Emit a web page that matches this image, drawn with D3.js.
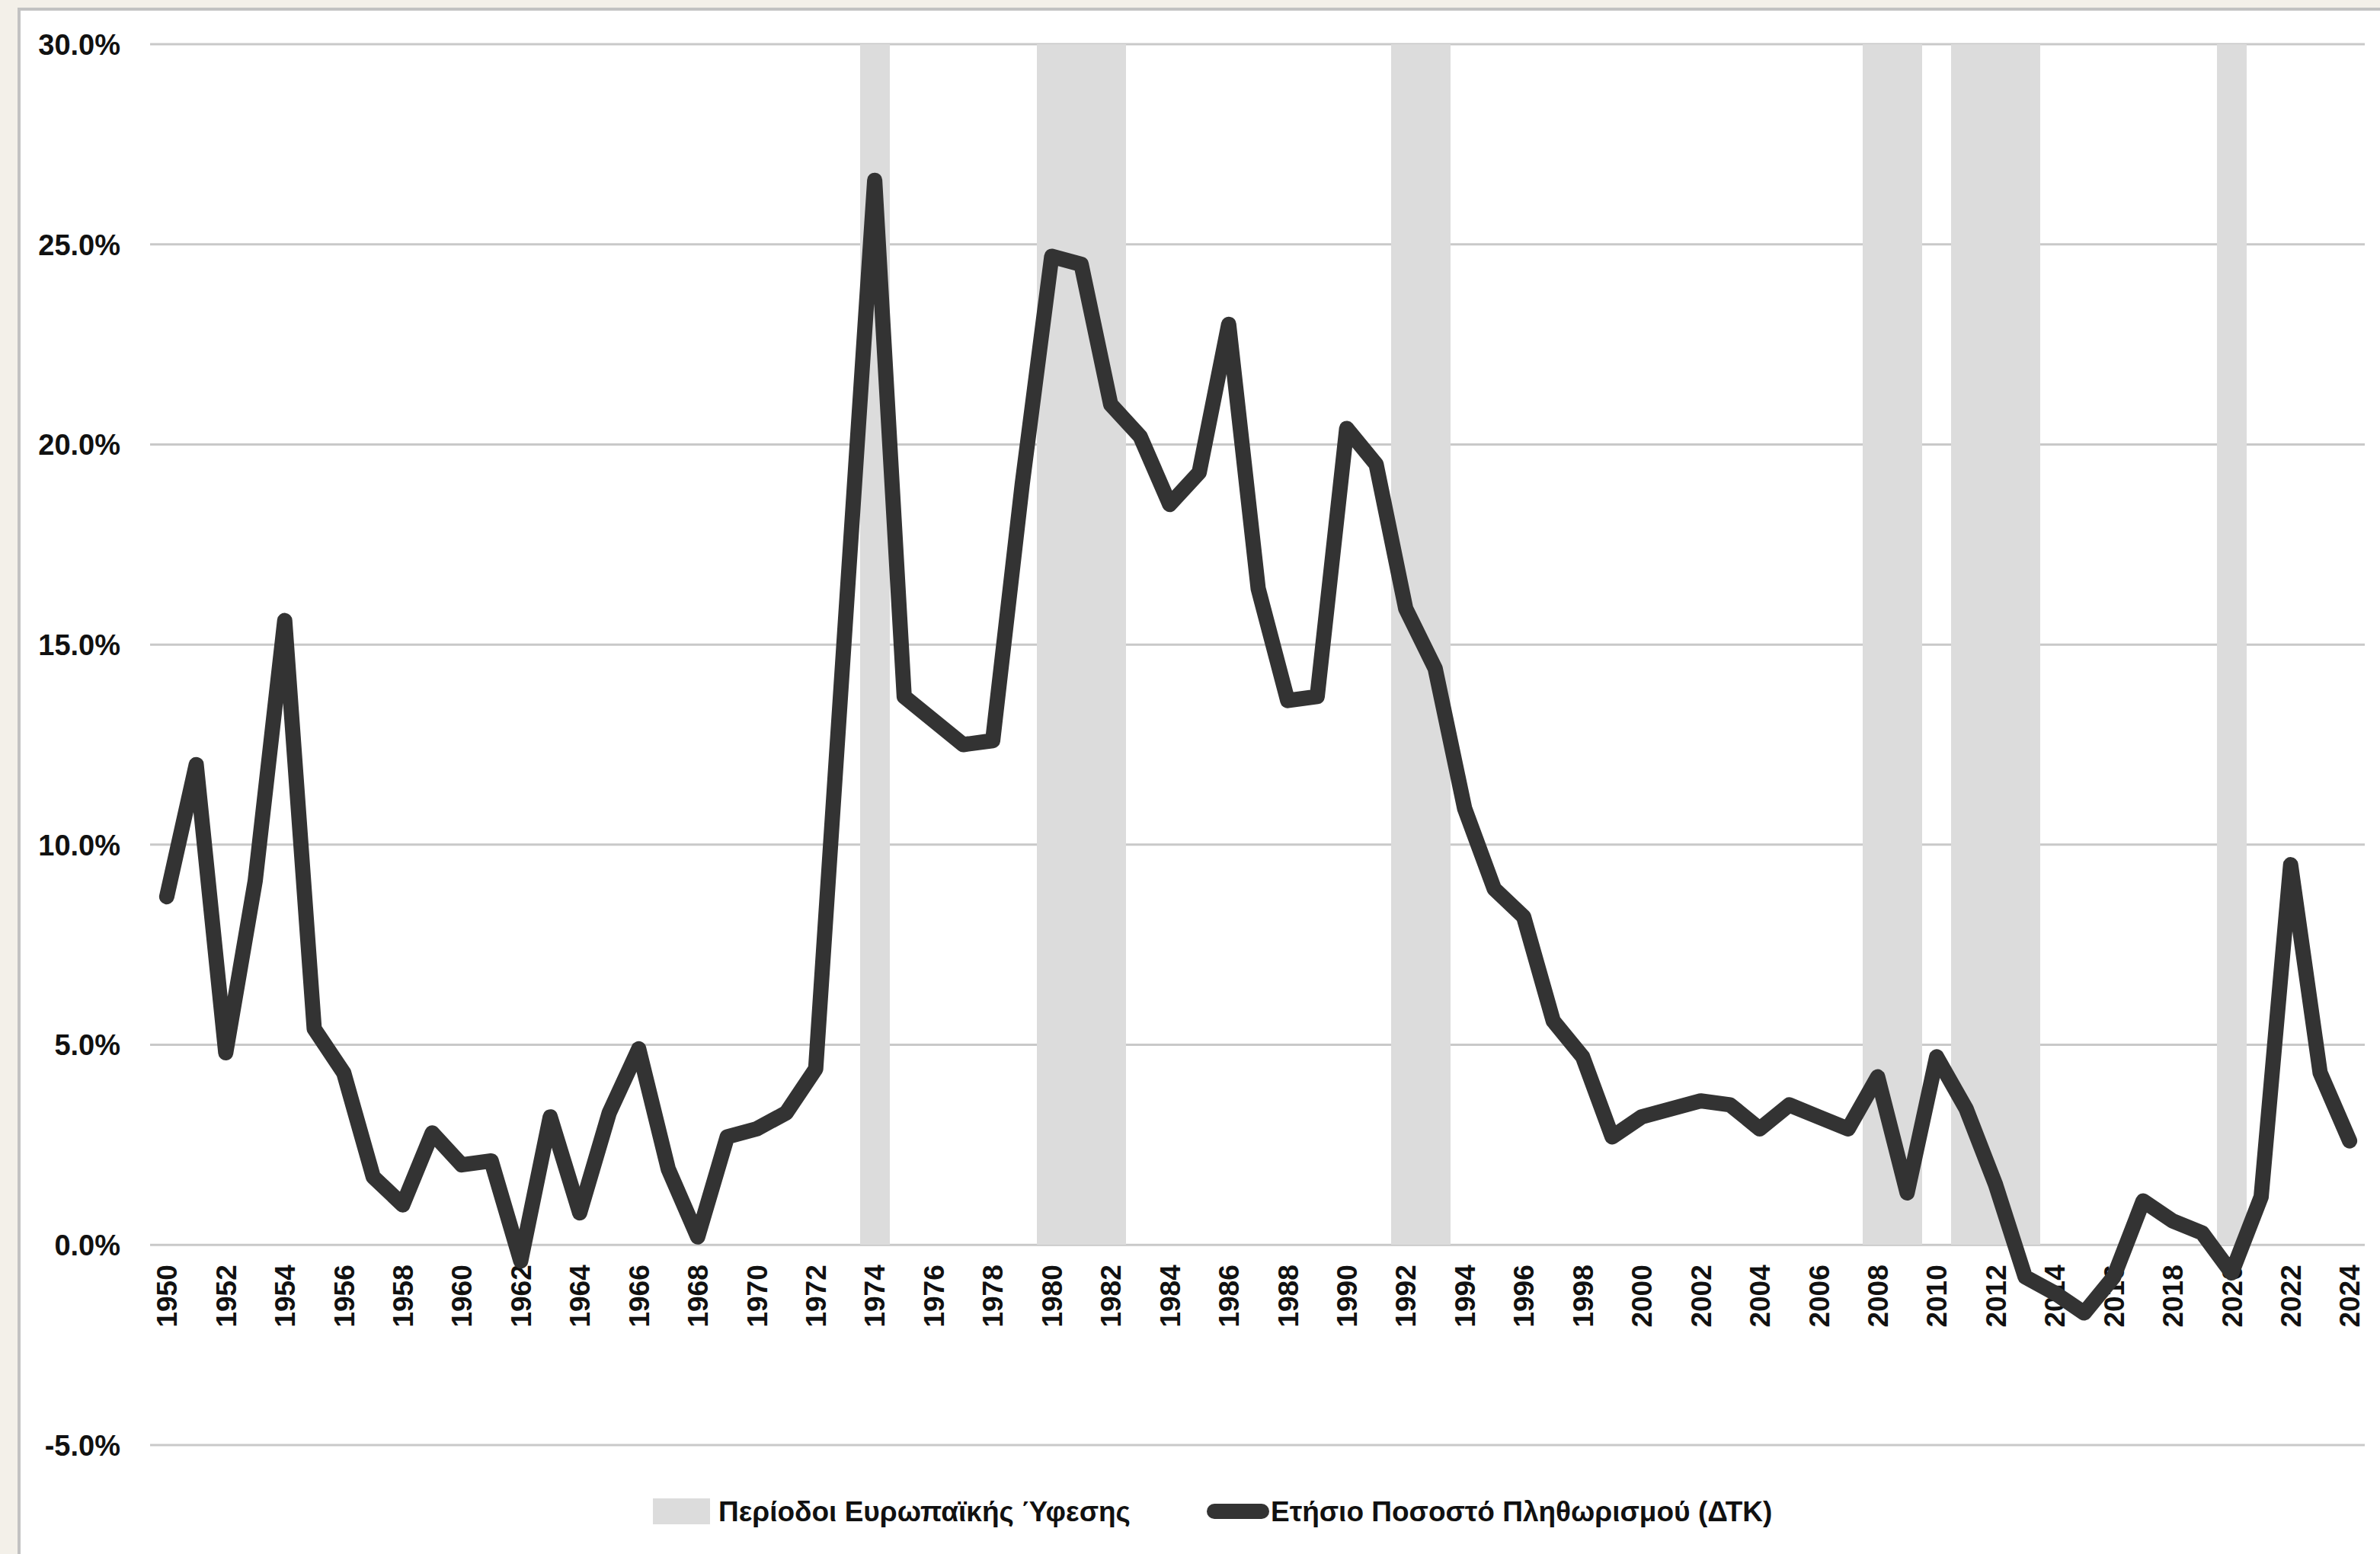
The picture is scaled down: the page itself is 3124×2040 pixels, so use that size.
<!DOCTYPE html>
<html>
<head>
<meta charset="utf-8">
<script src="https://cdn.jsdelivr.net/npm/d3@7"></script>
<style>
  body { margin: 0; background: #f3f0e9; }
  svg { display: block; }
  text { font-family: "Liberation Sans", Arial, sans-serif; font-weight: bold; fill: #111; }
</style>
</head>
<body>
<div id="chart"></div>
<script>
// years on the x axis
const years = d3.range(1950, 2025);

// annual CPI inflation, %
const inflation = [
  8.7, 12.0, 4.8, 9.1, 15.6, 5.4, 4.3, 1.7, 1.0, 2.8,
  2.0, 2.1, -0.4, 3.2, 0.8, 3.3, 4.9, 1.9, 0.2, 2.7,
  2.9, 3.3, 4.4, 15.5, 26.6, 13.7, 13.1, 12.5, 12.6, 19.0,
  24.7, 24.5, 21.0, 20.2, 18.5, 19.3, 23.0, 16.4, 13.6, 13.7,
  20.4, 19.5, 15.9, 14.4, 10.9, 8.9, 8.2, 5.6, 4.7, 2.7,
  3.2, 3.4, 3.6, 3.5, 2.9, 3.5, 3.2, 2.9, 4.2, 1.3,
  4.7, 3.4, 1.5, -0.8, -1.2, -1.7, -0.8, 1.1, 0.6, 0.3,
  -0.7, 1.2, 9.5, 4.3, 2.6
];

// european recession periods (drawn as full-height columns)
const recessionYears = [1974, 1980, 1981, 1982, 1992, 1993, 2008, 2009, 2011, 2012, 2013, 2020];
const recessionHeight = 30;

const yTicks = [-5, 0, 5, 10, 15, 20, 25, 30];
const legendLabels = ['Περίοδοι Ευρωπαϊκής Ύφεσης', 'Ετήσιο Ποσοστό Πληθωρισμού (ΔΤΚ)'];

const width = 3124;
const height = 2040;

const svg = d3.select('#chart')
  .append('svg')
    .attr('width', width)
    .attr('height', height);

// white chart panel
svg.append('rect')
  .attr('x', 25)
  .attr('y', 12)
  .attr('width', width + 20)
  .attr('height', height + 20)
  .attr('fill', '#fff')
  .attr('stroke', '#c2c2c2')
  .attr('stroke-width', 4);

const xScale = d3.scaleBand()
  .domain(years)
  .range([199.5, 3103.5])
  .padding(0);

const yScale = d3.scaleLinear()
  .domain([-5, 30])
  .range([1897, 58]);

// gridlines
svg.append('g')
  .selectAll('line')
  .data(yTicks)
  .join('line')
    .attr('x1', 197)
    .attr('x2', 3104)
    .attr('y1', d => yScale(d))
    .attr('y2', d => yScale(d))
    .attr('stroke', '#c9c9c9')
    .attr('stroke-width', 3);

// recession columns
svg.append('g')
  .attr('shape-rendering', 'crispEdges')
  .selectAll('rect')
  .data(recessionYears)
  .join('rect')
    .attr('x', d => xScale(d))
    .attr('width', xScale.bandwidth() + 0.5)
    .attr('y', yScale(recessionHeight))
    .attr('height', yScale(0) - yScale(recessionHeight))
    .attr('fill', '#dcdcdc');

// y axis labels (plain hyphen for negatives, like the original)
const pct = d => d3.format('.1f')(d).replace('−', '-') + '%';
const yAxis = svg.append('g')
  .attr('transform', 'translate(158, 0)')
  .call(d3.axisLeft(yScale).tickValues(yTicks).tickSize(0).tickPadding(0).tickFormat(pct));
yAxis.select('.domain').remove();
yAxis.selectAll('text')
  .attr('font-size', 38)
  .attr('font-family', null)
  .attr('dy', '0.35em');

// x axis labels, every other year, rotated
const xAxis = svg.append('g')
  .attr('transform', `translate(0, ${yScale(0)})`)
  .call(d3.axisBottom(xScale)
    .tickValues(years.filter(d => (d - 1950) % 2 === 0))
    .tickSize(0));
xAxis.select('.domain').remove();
xAxis.selectAll('text')
  .attr('font-size', 37)
  .attr('font-family', null)
  .attr('text-anchor', 'end')
  .attr('transform', 'translate(0, 26) rotate(-90)')
  .attr('x', 0)
  .attr('y', 0)
  .attr('dy', '0.36em');

// inflation line
const series = years.map((y, i) => ({year: y, value: inflation[i]}));
const line = d3.line()
  .x(d => xScale(d.year) + xScale.bandwidth() / 2)
  .y(d => yScale(d.value));

svg.append('path')
  .attr('d', line(series))
  .attr('fill', 'none')
  .attr('stroke', '#333333')
  .attr('stroke-width', 20)
  .attr('stroke-linejoin', 'round')
  .attr('stroke-linecap', 'round');

// legend
const legend = svg.append('g').attr('transform', 'translate(0, 1984)');
legend.append('rect')
  .attr('x', 857)
  .attr('y', -17)
  .attr('width', 75)
  .attr('height', 34)
  .attr('fill', '#dcdcdc');
legend.append('text')
  .attr('x', 943)
  .attr('dy', '0.35em')
  .attr('font-size', 37)
  .text(legendLabels[0]);
legend.append('line')
  .attr('x1', 1594)
  .attr('x2', 1656)
  .attr('stroke', '#333333')
  .attr('stroke-width', 20)
  .attr('stroke-linecap', 'round');
legend.append('text')
  .attr('x', 1668)
  .attr('dy', '0.35em')
  .attr('font-size', 37)
  .text(legendLabels[1]);
</script>
</body>
</html>
